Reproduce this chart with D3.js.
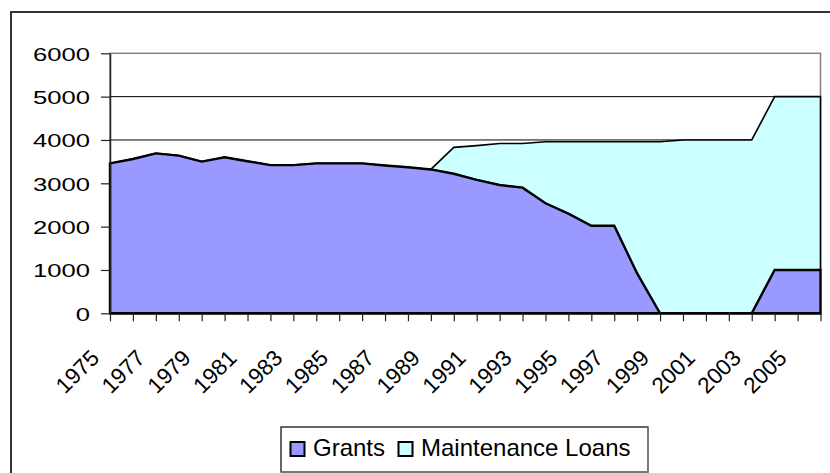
<!DOCTYPE html>
<html lang="en">
<head>
    <meta charset="UTF-8">
    <title>Grants and Maintenance Loans</title>
    <script src="https://d3js.org/d3.v7.min.js"></script>
    <style>
        body { margin: 0; background: white; }
        svg { display: block; font-family: "Liberation Sans", Arial, sans-serif; }
    </style>
</head>
<body>
    <svg width="830" height="473"></svg>
    <script>
        var years = [1975, 1976, 1977, 1978, 1979, 1980, 1981, 1982, 1983, 1984, 1985, 1986, 1987, 1988, 1989, 1990,
                     1991, 1992, 1993, 1994, 1995, 1996, 1997, 1998, 1999, 2000, 2001, 2002, 2003, 2004, 2005, 2006];
        var grants = [3460, 3560, 3690, 3640, 3500, 3600, 3510, 3420, 3420, 3460, 3460, 3460, 3410, 3370, 3320, 3220,
                      3080, 2960, 2900, 2540, 2300, 2020, 2020, 920, 0, 0, 0, 0, 0, 1000, 1000, 1000];
        var loans = [0, 0, 0, 0, 0, 0, 0, 0, 0, 0, 0, 0, 0, 0, 0, 610,
                     790, 960, 1020, 1420, 1660, 1940, 1940, 3040, 3960, 4000, 4000, 4000, 4000, 4000, 4000, 4000];
        var yTicks = [0, 1000, 2000, 3000, 4000, 5000, 6000];
        var seriesNames = ["Grants", "Maintenance Loans"];
        var seriesColors = ["#9999FF", "#CCFFFF"];

        var svg = d3.select("svg");
        var plotLeft = 110, plotRight = 820.5, plotTop = 53.3, plotBottom = 313.3;

        // outer chart frame (cut off on right and bottom)
        svg.append("rect")
            .attr("x", 11).attr("y", 12)
            .attr("width", 900).attr("height", 600)
            .attr("fill", "white")
            .attr("stroke", "#333").attr("stroke-width", 2);

        var x = d3.scalePoint().domain(years).range([plotLeft, plotRight]);
        var y = d3.scaleLinear().domain([0, 6000]).range([plotBottom, plotTop]);

        // gridlines
        svg.append("g").selectAll("line")
            .data(yTicks.slice(1, -1))
            .enter().append("line")
            .attr("x1", plotLeft).attr("x2", plotRight)
            .attr("y1", function(d) { return y(d); })
            .attr("y2", function(d) { return y(d); })
            .attr("stroke", "#000").attr("stroke-width", 1);

        // plot area border
        svg.append("rect")
            .attr("x", plotLeft).attr("y", plotTop)
            .attr("width", plotRight - plotLeft).attr("height", plotBottom - plotTop)
            .attr("fill", "none")
            .attr("stroke", "#808080").attr("stroke-width", 1.5);

        var rows = years.map(function(yr, i) {
            return { year: yr, "Grants": grants[i], "Maintenance Loans": loans[i] };
        });
        var stacked = d3.stack().keys(seriesNames)(rows);

        var area = d3.area()
            .x(function(d) { return x(d.data.year); })
            .y0(function(d) { return y(d[0]); })
            .y1(function(d) { return y(d[1]); });

        // loans first, grants on top so its thicker outline shows
        [1, 0].forEach(function(k) {
            svg.append("path")
                .datum(stacked[k])
                .attr("d", function(d) { return area(d) + "Z"; })
                .attr("fill", seriesColors[k])
                .attr("stroke", "#000")
                .attr("stroke-width", k === 0 ? 2.4 : 1.6)
                .attr("stroke-linejoin", "miter");
        });

        // y axis
        var yAxis = svg.append("g")
            .attr("transform", "translate(" + plotLeft + ",0)")
            .call(d3.axisLeft(y).tickValues(yTicks).tickSize(9).tickSizeOuter(0)
                .tickFormat(d3.format("d")));
        yAxis.select(".domain").attr("stroke", "#222").attr("stroke-width", 1.5);
        yAxis.selectAll(".tick line").attr("stroke", "#222").attr("stroke-width", 1.2);
        yAxis.selectAll(".tick text")
            .attr("x", null).attr("dy", "0.36em")
            .attr("transform", "translate(-20,0) scale(1.35,1)")
            .attr("font-size", 19)
            .attr("font-family", "Liberation Sans, Arial, sans-serif")
            .attr("fill", "#000");

        // x axis
        var xAxis = svg.append("g")
            .attr("transform", "translate(0," + plotBottom + ")")
            .call(d3.axisBottom(x).tickSize(8).tickSizeOuter(0)
                .tickFormat(function(d) { return d % 2 === 1 ? d : ""; }));
        xAxis.select(".domain").attr("stroke", "#000").attr("stroke-width", 1.5);
        xAxis.selectAll(".tick line").attr("stroke", "#222").attr("stroke-width", 1.2);
        xAxis.selectAll(".tick text")
            .attr("x", 0).attr("y", 0).attr("dy", 0)
            .attr("transform", "translate(-10,46) rotate(-45)")
            .attr("text-anchor", "end")
            .attr("font-size", 22.5)
            .attr("font-family", "Liberation Sans, Arial, sans-serif")
            .attr("fill", "#000");

        // legend
        var legend = svg.append("g");
        legend.append("rect")
            .attr("x", 281).attr("y", 427)
            .attr("width", 367).attr("height", 45)
            .attr("fill", "white")
            .attr("stroke", "#000").attr("stroke-width", 1.2);
        legend.append("path")
            .attr("d", "M281,472H648V427")
            .attr("fill", "none")
            .attr("stroke", "#808080").attr("stroke-width", 1.5);

        var legendX = [290.5, 398.5];
        var textX = [313, 421];
        seriesNames.forEach(function(name, i) {
            legend.append("rect")
                .attr("x", legendX[i]).attr("y", 442)
                .attr("width", 14).attr("height", 14)
                .attr("fill", seriesColors[i])
                .attr("stroke", "#000").attr("stroke-width", 2);
            legend.append("text")
                .attr("x", textX[i]).attr("y", 456)
                .attr("font-size", 24)
                .attr("fill", "#000")
                .text(name);
        });
    </script>
</body>
</html>
